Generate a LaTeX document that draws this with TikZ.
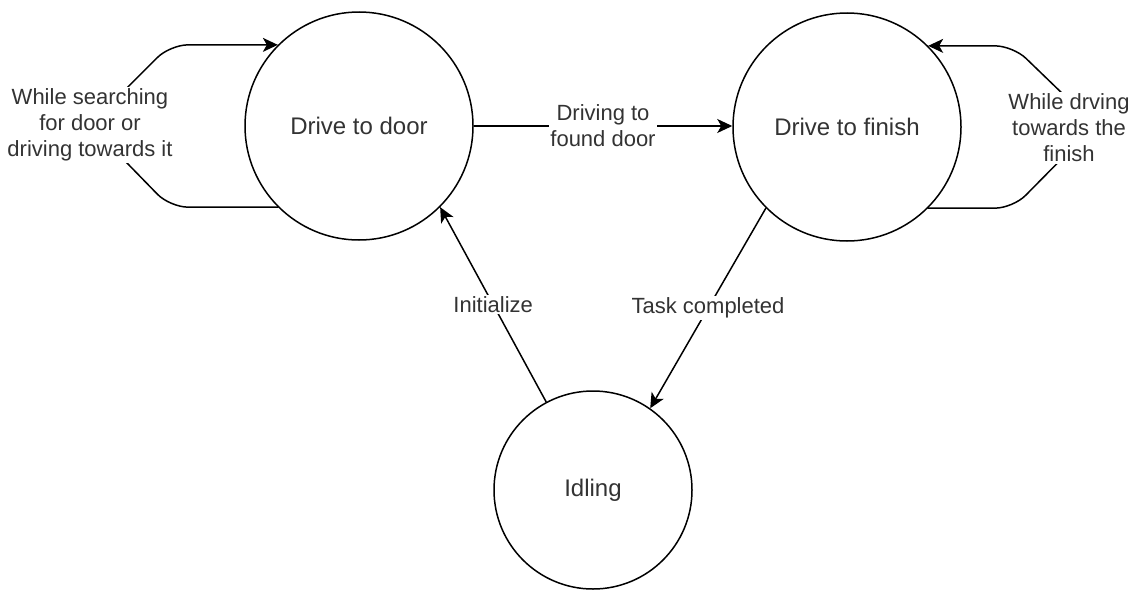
\documentclass[tikz,border=0pt]{standalone}
\usepackage{fontspec}
\setmainfont{Liberation Sans}
\usetikzlibrary{arrows.meta}
\definecolor{txt}{HTML}{333333}
\begin{document}
\begin{tikzpicture}[x=1pt,y=-1pt,
  state/.style={circle, draw=black, line width=1.5pt, text=txt, font=\fontsize{24}{28}\selectfont, inner sep=0pt},
  edge/.style={draw=black, line width=1.5pt, -{Stealth[length=15pt,width=14pt,inset=4pt]}},
  elabel/.style={fill=white, text=txt, font=\fontsize{22}{26}\selectfont, align=center, inner sep=1.5pt}]
\useasboundingbox[fill=white] (0,0) rectangle (1134,589);
\node[state, minimum size=228pt] (door) at (359,126) {Drive to door};
\node[state, minimum size=228pt] (finish) at (847,127) {Drive to finish};
\node[state, minimum size=198pt] (idle) at (593,490) {Idling};

\draw[edge] (door.east) -- node[elabel] (l-found) {Driving to\\found door} (door.east -| finish.west);
\draw[edge] (idle.118) -- node[elabel] (l-init) {Initialize} (door.-45);
\draw[edge] (finish.225) -- node[elabel] (l-task) {Task completed} (idle.55);

\coordinate (l1) at (170,0);
\coordinate (lm) at (90,125);
\draw[edge, rounded corners=18pt] (door.225) -- (door.225 -| l1) -- (lm) -- (door.135 -| l1) -- (door.135);
\node[elabel] (l-search) at (lm) {While searching\\for door or\\driving towards it};

\coordinate (r1) at (1013,0);
\coordinate (rm) at (1095,125);
\draw[edge, rounded corners=18pt] (finish.-45) -- (finish.-45 -| r1) -- (rm) -- (finish.45 -| r1) -- (finish.45);
\node[elabel] (l-drive) at (1069,128) {While drving\\towards the\\finish};
\end{tikzpicture}
\end{document}
